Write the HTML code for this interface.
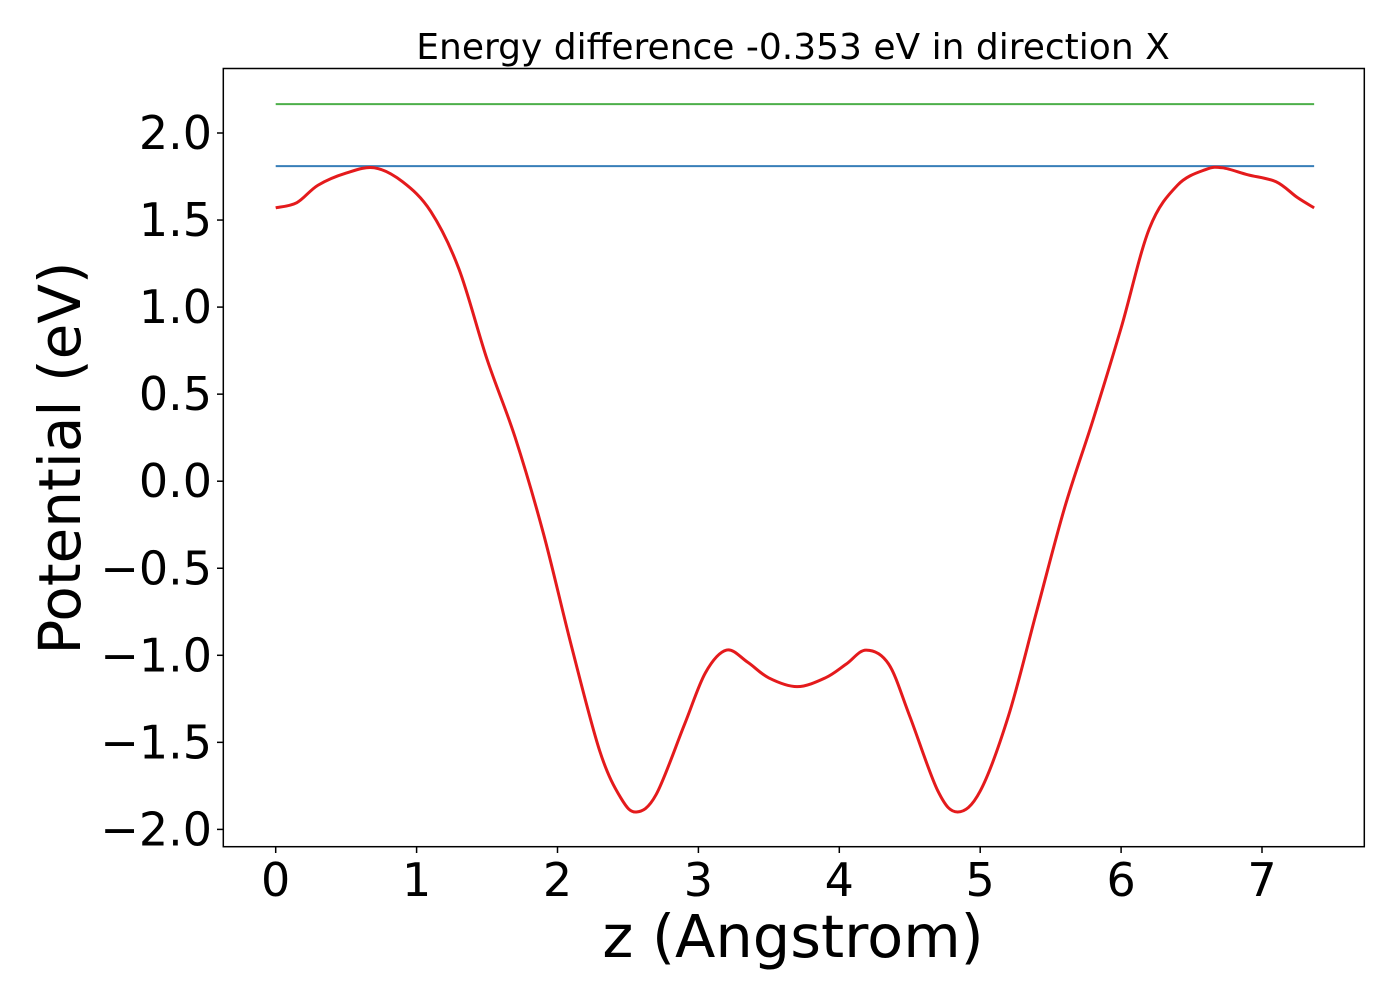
<!DOCTYPE html>
<html><head><meta charset="utf-8"><style>
body{margin:0;background:#fff;}
svg text{font-family:"DejaVu Sans","Liberation Sans",sans-serif;fill:#000;}
</style></head><body>
<svg id="chart" width="1400" height="1000" xmlns="http://www.w3.org/2000/svg">
<rect width="1400" height="1000" fill="#fff"/>
<text x="793" y="59" font-size="36" text-anchor="middle">Energy difference -0.353 eV in direction X</text>
<g id="plot"></g>
<rect x="223.3" y="68.5" width="1141" height="778.2" fill="none" stroke="#000" stroke-width="1.5"/>
<text x="793" y="957" font-size="59" text-anchor="middle">z (Angstrom)</text>
<text transform="translate(80,458) rotate(-90)" font-size="58" text-anchor="middle">Potential (eV)</text>
</svg>
<script>
const xTicks=[0,1,2,3,4,5,6,7];
const yTicks=[2.0,1.5,1.0,0.5,0.0,-0.5,-1.0,-1.5,-2.0];
const greenLevel=2.166;
const blueLevel=1.81;
const zValues=[0,0.15,0.3,0.5,0.7,0.9,1.1,1.3,1.5,1.7,1.9,2.1,2.3,2.45,2.56,2.7,2.9,3.05,3.2,3.35,3.5,3.7,3.9,4.05,4.19,4.35,4.5,4.7,4.84,5.0,5.2,5.4,5.6,5.8,6.0,6.2,6.4,6.6,6.72,6.9,7.1,7.25,7.37];
const potValues=[1.57,1.6,1.7,1.77,1.80,1.72,1.55,1.22,0.7,0.25,-0.3,-0.95,-1.55,-1.82,-1.90,-1.8,-1.4,-1.1,-0.97,-1.04,-1.13,-1.18,-1.13,-1.05,-0.97,-1.05,-1.35,-1.78,-1.90,-1.78,-1.35,-0.75,-0.15,0.35,0.88,1.45,1.7,1.79,1.80,1.76,1.72,1.63,1.57];
const NS="http://www.w3.org/2000/svg";
const g=document.getElementById('plot');
const sx=v=>275.7+v*140.9;
const sy=v=>481.2-v*174.1;
function mk(t,a){const e=document.createElementNS(NS,t);for(const k in a)e.setAttribute(k,a[k]);g.appendChild(e);return e;}
xTicks.forEach(t=>{
 const l=mk('line',{x1:sx(t),x2:sx(t),y1:846.7,y2:853,stroke:'#000','stroke-width':1.5});
 
 
 const tx=mk('text',{x:sx(t),y:896,'font-size':46,'text-anchor':'middle'});
 tx.textContent=t;
 
 
});
yTicks.forEach(t=>{
 const l=mk('line',{x1:217,x2:223.3,y1:sy(t),y2:sy(t),stroke:'#000','stroke-width':1.5});
 
 
 const tx=mk('text',{x:212,y:sy(t)+16,'font-size':46,'text-anchor':'end'});
 tx.textContent=(t<0?'\u2212':'')+Math.abs(t).toFixed(1);
 
 
});
const x0=sx(zValues[0]),x1=sx(zValues[zValues.length-1]);
const gl=mk('line',{x1:x0,x2:x1,y1:sy(greenLevel),y2:sy(greenLevel),stroke:'#4daf4a','stroke-width':2});


const bl=mk('line',{x1:x0,x2:x1,y1:sy(blueLevel),y2:sy(blueLevel),stroke:'#377eb8','stroke-width':2});


const P=zValues.map((z,i)=>[sx(z),sy(potValues[i])]);
let d='M'+P[0][0]+','+P[0][1];
for(let i=0;i<P.length-1;i++){
 const p0=P[Math.max(i-1,0)],p1=P[i],p2=P[i+1],p3=P[Math.min(i+2,P.length-1)];
 const c1=[p1[0]+(p2[0]-p0[0])/6,p1[1]+(p2[1]-p0[1])/6];
 const c2=[p2[0]-(p3[0]-p1[0])/6,p2[1]-(p3[1]-p1[1])/6];
 d+=` C${c1[0]},${c1[1]} ${c2[0]},${c2[1]} ${p2[0]},${p2[1]}`;
}
const rl=mk('path',{d:d,fill:'none',stroke:'#e41a1c','stroke-width':3});


</script>
</body></html>
